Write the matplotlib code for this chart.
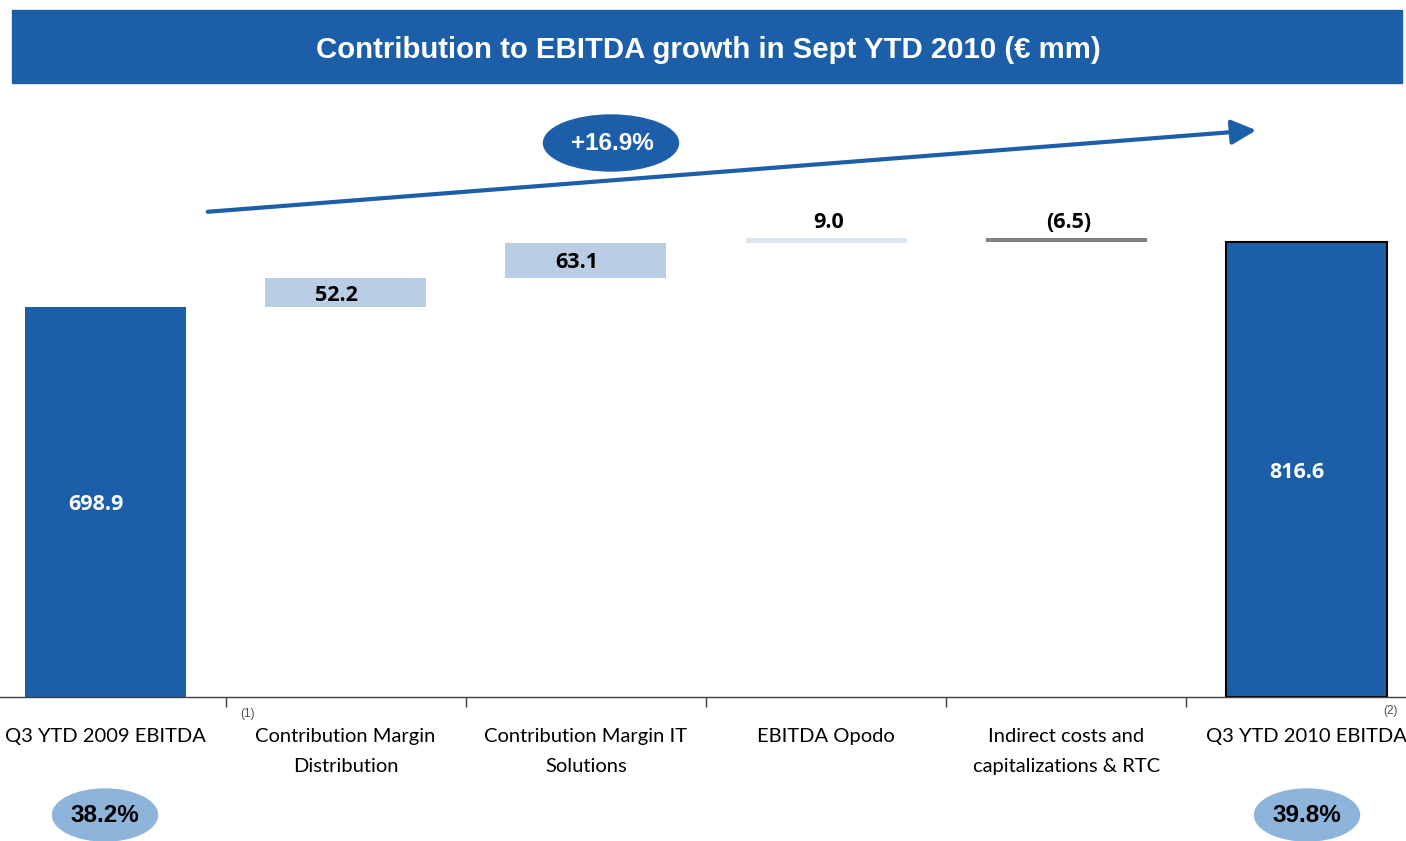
import matplotlib
matplotlib.use("Agg")
import matplotlib.pyplot as plt
from matplotlib.patches import Ellipse, Rectangle, FancyArrowPatch
from matplotlib.transforms import blended_transform_factory

# ---- data ----
categories = ["Q3 YTD 2009 EBITDA", "Contribution Margin\nDistribution",
              "Contribution Margin IT\nSolutions", "EBITDA Opodo",
              "Indirect costs and\ncapitalizations & RTC", "Q3 YTD 2010 EBITDA"]
start_value = 698.9
deltas = [52.2, 63.1, 9.0, -6.5]
end_value = 816.6
value_labels = ["698.9", "52.2", "63.1", "9.0", "(6.5)", "816.6"]
growth_label = "+16.9%"
margin_labels = ["38.2%", "39.8%"]
title = "Contribution to EBITDA growth in Sept YTD 2010 (€ mm)"

BLUE = "#1C5FA8"
LIGHT = "#B9CDE5"
LIGHTER = "#DCE6F2"
GRAY = "#808080"
ELL = "#8DB4DA"

W, H = 1406, 841
fig = plt.figure(figsize=(W / 100, H / 100), dpi=100)
fig.patch.set_facecolor("white")

# axes: y=0 at pixel 697, top at pixel 100
ax = fig.add_axes([0, (H - 697) / H, 1, (697 - 100) / H])
ax.set_xlim(-0.439, 5.414)
ax.set_ylim(0, 597 / 0.5575)

bw = 0.67
ax.bar(0, start_value, width=bw, color=BLUE, zorder=2)
cum = start_value
float_colors = [LIGHT, LIGHT, LIGHTER, GRAY]
tops = []
for i, d in enumerate(deltas):
    lo, hi = (cum, cum + d) if d >= 0 else (cum + d, cum)
    ax.bar(i + 1, hi - lo, bottom=lo, width=bw, color=float_colors[i], zorder=2)
    tops.append((lo, hi))
    cum += d
ax.bar(5, end_value, width=bw, color=BLUE, edgecolor="black", linewidth=1.5, zorder=2)

# value labels
bold = dict(fontfamily=["Open Sans", "DejaVu Sans"], fontweight="bold", fontsize=15.5)
dx = -0.04
ax.text(0 + dx, start_value / 2 - 5, value_labels[0], color="white", ha="center", va="center", **bold)
ax.text(5 + dx, end_value / 2 - 6, value_labels[5], color="white", ha="center", va="center", **bold)
for i, (lo, hi) in enumerate(tops):
    if i < 2:
        ax.text(i + 1 + dx, (lo + hi) / 2 - 4, value_labels[i + 1], color="black",
                ha="center", va="center", **bold)
    else:
        ax.text(i + 1 + 0.01, hi + 28, value_labels[i + 1], color="black",
                ha="center", va="center", **bold)

# axis styling
for s in ["top", "right", "left"]:
    ax.spines[s].set_visible(False)
ax.spines["bottom"].set_color("#404040")
ax.spines["bottom"].set_linewidth(1.0)
ax.set_yticks([])
ax.set_xticks([])
ax.set_xticks([0.5, 1.5, 2.5, 3.5, 4.5], minor=True)
ax.tick_params(axis="x", which="minor", length=7, width=1, color="#404040", direction="out")

trans = blended_transform_factory(ax.transData, fig.transFigure)
for i, c in enumerate(categories):
    ax.text(i, 1 - 728 / H, c, transform=trans, ha="center", va="top",
            fontfamily=["Lato", "DejaVu Sans"], fontsize=14.5, linespacing=1.95, color="black")

# footnotes
fig.text(248 / W, 1 - 714 / H, "(1)", ha="center", va="center", fontsize=8.5, color="#505050",
         fontfamily=["Liberation Sans"])
fig.text(1390 / W, 1 - 711 / H, "(2)", ha="center", va="center", fontsize=8.5, color="#505050",
         fontfamily=["Liberation Sans"])

# title banner
fig.patches.append(Rectangle((12 / W, 1 - 83 / H), (1402 - 12) / W, 73 / H,
                             transform=fig.transFigure, color=BLUE, zorder=0))
fig.text(708 / W, 1 - 50 / H, title, ha="center", va="center", color="white",
         fontsize=21.2, fontweight="bold", fontfamily=["Liberation Sans", "DejaVu Sans"])

# growth arrow
arr = FancyArrowPatch((205 / W, 1 - 212 / H), (1259 / W, 1 - 130 / H), transform=fig.transFigure,
                      arrowstyle="-|>,head_length=10,head_width=5", color=BLUE, linewidth=3,
                      mutation_scale=1.5)
fig.patches.append(arr)
fig.patches.append(Ellipse((611 / W, 1 - 143 / H), 135 / W, 56 / H, transform=fig.transFigure,
                           color=BLUE, zorder=3))
fig.text(612 / W, 1 - 143 / H, growth_label, ha="center", va="center", color="white",
         fontsize=17.5, fontweight="bold", fontfamily=["Liberation Sans"], zorder=4)

# margin ellipses
for cx, lab in zip([105, 1307], margin_labels):
    fig.patches.append(Ellipse((cx / W, 1 - 815 / H), 105 / W, 52 / H, transform=fig.transFigure,
                               color=ELL, zorder=3))
    fig.text(cx / W, 1 - 815 / H, lab, ha="center", va="center", color="black",
             fontsize=17.5, fontweight="bold", fontfamily=["Liberation Sans"], zorder=4)

fig.savefig("out.png", dpi=100)
